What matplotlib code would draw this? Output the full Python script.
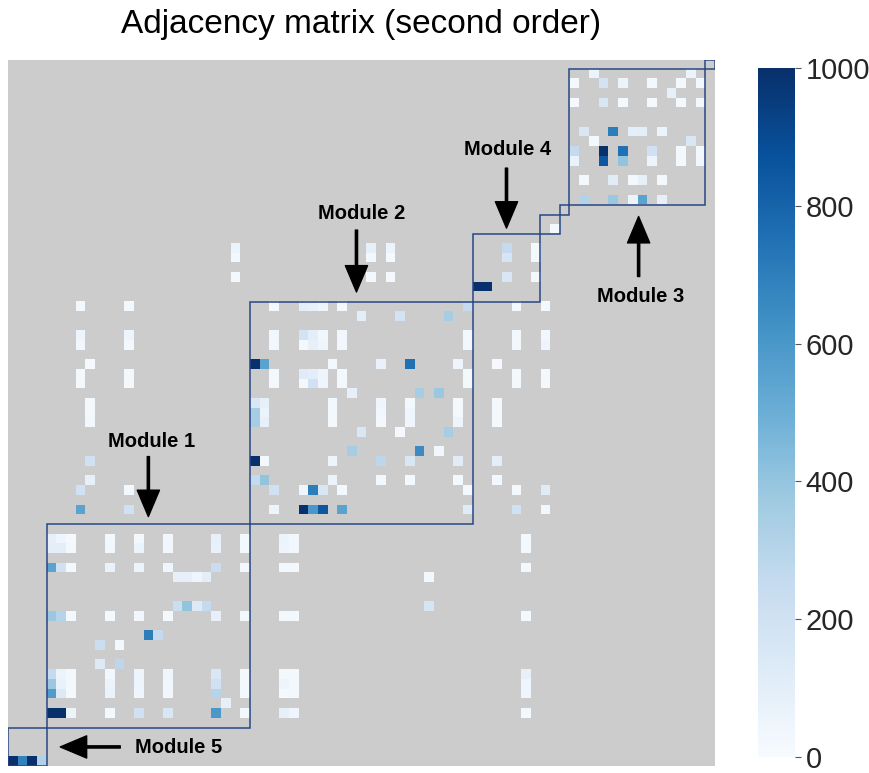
import numpy as np
import matplotlib
matplotlib.use("Agg")
import matplotlib.pyplot as plt
from matplotlib.patches import Rectangle

plt.rcParams['font.family'] = ['Liberation Sans', 'DejaVu Sans']

# =============================================================================
# DATA  (row index counted from the bottom, column from the left)
# =============================================================================
N = 73

# modules on the diagonal: first node, number of nodes
module_starts = [0, 4, 25, 48, 55, 57, 58, 72]
module_sizes = [4, 21, 23, 7, 2, 1, 14, 1]

# rows that share the module 1 column pattern
m1_cols = [4, 5, 6, 10, 13, 16, 21, 24, 28, 29, 53]
m1_rows = [23, 22, 20, 15, 9, 8, 7, 5]
m1_vals = [
    [80, 40, 10, 20, 20, 30, 80, 20, 60, 30, 20],
    [100, 100, 20, 30, 60, 30, 70, 20, 50, 30, 20],
    [550, 200, 20, 70, 60, 40, 230, 20, 20, 20, 20],
    [380, 300, 20, 20, 30, 20, 80, 20, 20, 20, 20],
    [250, 60, 20, 30, 50, 40, 150, 20, 20, 20, 80],
    [380, 70, 20, 60, 50, 30, 200, 20, 50, 20, 40],
    [580, 130, 20, 70, 40, 30, 300, 20, 10, 20, 40],
    [1000, 1000, 60, 20, 200, 150, 600, 20, 80, 40, 20],
]

# rows that share the first module 2 column pattern
m2a_cols = [7, 12, 27, 30, 31, 32, 34, 47, 52, 55]
m2a_rows = [47, 44, 43, 40, 39, 28, 26]
m2a_vals = [
    [20, 20, 20, 100, 80, 50, 20, 250, 20, 20],
    [50, 50, 30, 180, 100, 30, 30, 20, 20, 30],
    [30, 20, 30, 20, 80, 40, 30, 30, 30, 50],
    [20, 20, 20, 120, 100, 50, 20, 20, 20, 20],
    [20, 20, 20, 20, 200, 40, 20, 20, 20, 20],
    [200, 20, 200, 40, 700, 150, 20, 20, 20, 120],
    [550, 200, 50, 1000, 600, 850, 550, 120, 200, 30],
]

# rows that share the second module 2 column pattern
m2b_cols = [8, 25, 26, 33, 38, 41, 46, 50]
m2b_rows = [41, 37, 36, 35, 31, 29]
m2b_vals = [
    [10, 1000, 550, 20, 70, 750, 50, 10],
    [20, 150, 80, 20, 40, 20, 20, 20],
    [20, 350, 60, 20, 30, 40, 20, 20],
    [30, 350, 80, 20, 20, 40, 50, 20],
    [200, 1000, 20, 50, 280, 150, 110, 100],
    [80, 250, 400, 60, 20, 20, 20, 30],
]

# rows that share the module 4 column pattern
m4_cols = [23, 37, 39, 51, 54]
m4_rows = [53, 52, 50]
m4_vals = [
    [60, 80, 60, 250, 20],
    [20, 20, 10, 170, 20],
    [20, 20, 10, 150, 20],
]

# remaining single entries: (row, col, value)
other_cells = [
    (0, 0, 1000), (0, 1, 680), (0, 2, 1000), (0, 3, 320),
    (6, 22, 80),
    (10, 9, 130), (10, 11, 280),
    (12, 9, 220), (12, 11, 20),
    (13, 14, 700), (13, 15, 250),
    (16, 17, 220), (16, 18, 400), (16, 19, 130), (16, 20, 250), (16, 43, 170),
    (19, 17, 80), (19, 18, 80), (19, 19, 40), (19, 20, 100), (19, 43, 20),
    (26, 7, 550), (26, 12, 200),
    (46, 36, 100), (46, 40, 180), (46, 45, 350),
    (38, 35, 80), (38, 42, 350), (38, 44, 380),
    (34, 36, 150), (34, 40, 10), (34, 45, 350),
    (32, 35, 350), (32, 42, 650), (32, 44, 30),
    (49, 48, 1000), (49, 49, 1000),
    (55, 56, 20),
    (71, 60, 60), (71, 70, 60),
    (70, 58, 20), (70, 61, 180), (70, 63, 60), (70, 66, 20), (70, 69, 20), (70, 71, 20),
    (69, 68, 80),
    (68, 58, 10), (68, 61, 150), (68, 63, 20), (68, 66, 10), (68, 69, 20), (68, 71, 20),
    (65, 59, 150), (65, 62, 700), (65, 64, 90), (65, 65, 100), (65, 67, 60),
    (64, 60, 20), (64, 70, 150),
    (63, 58, 250), (63, 61, 1000), (63, 63, 750), (63, 66, 200), (63, 69, 20), (63, 71, 20),
    (62, 58, 70), (62, 61, 850), (62, 63, 400), (62, 66, 50), (62, 69, 20), (62, 71, 25),
    (60, 59, 20), (60, 62, 110), (60, 64, 20), (60, 65, 80), (60, 67, 20),
    (58, 59, 310), (58, 62, 380), (58, 64, 60), (58, 65, 550), (58, 67, 80),
]

# annotations: label, text position, arrow tail, arrow tip (in cell units)
labels = ['Module 1', 'Module 2', 'Module 3', 'Module 4']
text_pos = [(14.8, 33.6), (36.5, 57.1), (65.4, 48.5), (51.6, 63.7)]
arrow_from = [(14.5, 32.0), (36.0, 55.4), (65.15, 50.6), (51.5, 61.8)]
arrow_to = [(14.5, 25.8), (36.0, 49.0), (65.15, 56.8), (51.5, 55.6)]

# =============================================================================
# BUILD MATRIX
# =============================================================================
M = np.zeros((N, N))
for cols, rows, vals in [(m1_cols, m1_rows, m1_vals), (m2a_cols, m2a_rows, m2a_vals),
                         (m2b_cols, m2b_rows, m2b_vals), (m4_cols, m4_rows, m4_vals)]:
    for r, v in zip(rows, vals):
        M[r, cols] = v
for r, c, v in other_cells:
    M[r, c] = v
M = np.ma.masked_equal(M, 0)

# =============================================================================
# PLOT
# =============================================================================
W, H = 870, 773
fig = plt.figure(figsize=(W / 100, H / 100), dpi=100)
ax = fig.add_axes([8 / W, (H - 766.3) / H, 706.6 / W, 706.6 / H])

cmap = plt.get_cmap('Blues').copy()
cmap.set_bad('#cccccc')
im = ax.imshow(M, origin='lower', cmap=cmap, vmin=0, vmax=1000,
               extent=(0, N, 0, N), interpolation='nearest', aspect='auto')

for s, n in zip(module_starts, module_sizes):
    ax.add_patch(Rectangle((s, s), n, n, fill=False, edgecolor='#274783', lw=1.1))

arrow_kw = dict(facecolor='black', edgecolor='black', width=1.6,
                headwidth=16, headlength=19, shrink=0)
for lab, tp, a0, a1 in zip(labels, text_pos, arrow_from, arrow_to):
    ax.annotate('', xy=a1, xytext=a0, arrowprops=arrow_kw)
    ax.text(tp[0], tp[1], lab, ha='center', va='center', fontsize=14.5, fontweight='bold')

# module 5 sits in the corner, so its arrow points left
ax.annotate('', xy=(5.4, 2.0), xytext=(11.6, 2.0), arrowprops=arrow_kw)
ax.text(13.1, 1.9, 'Module 5', ha='left', va='center', fontsize=14.5, fontweight='bold')

ax.set_xlim(0, N)
ax.set_ylim(0, N)
ax.set_xticks([])
ax.set_yticks([])
for sp in ax.spines.values():
    sp.set_visible(False)

fig.text(ax.get_position().x0 + ax.get_position().width / 2, 1 - 33 / H,
         'Adjacency matrix (second order)', ha='center', va='baseline', fontsize=24)

cax = fig.add_axes([758 / W, (H - 757) / H, 37 / W, (757 - 68) / H])
cb = fig.colorbar(im, cax=cax, ticks=[0, 200, 400, 600, 800, 1000])
cb.outline.set_visible(False)
cax.tick_params(labelsize=21, length=4, width=0.8, color='#555555', labelcolor='#262626')

fig.savefig('out.png', dpi=100)
